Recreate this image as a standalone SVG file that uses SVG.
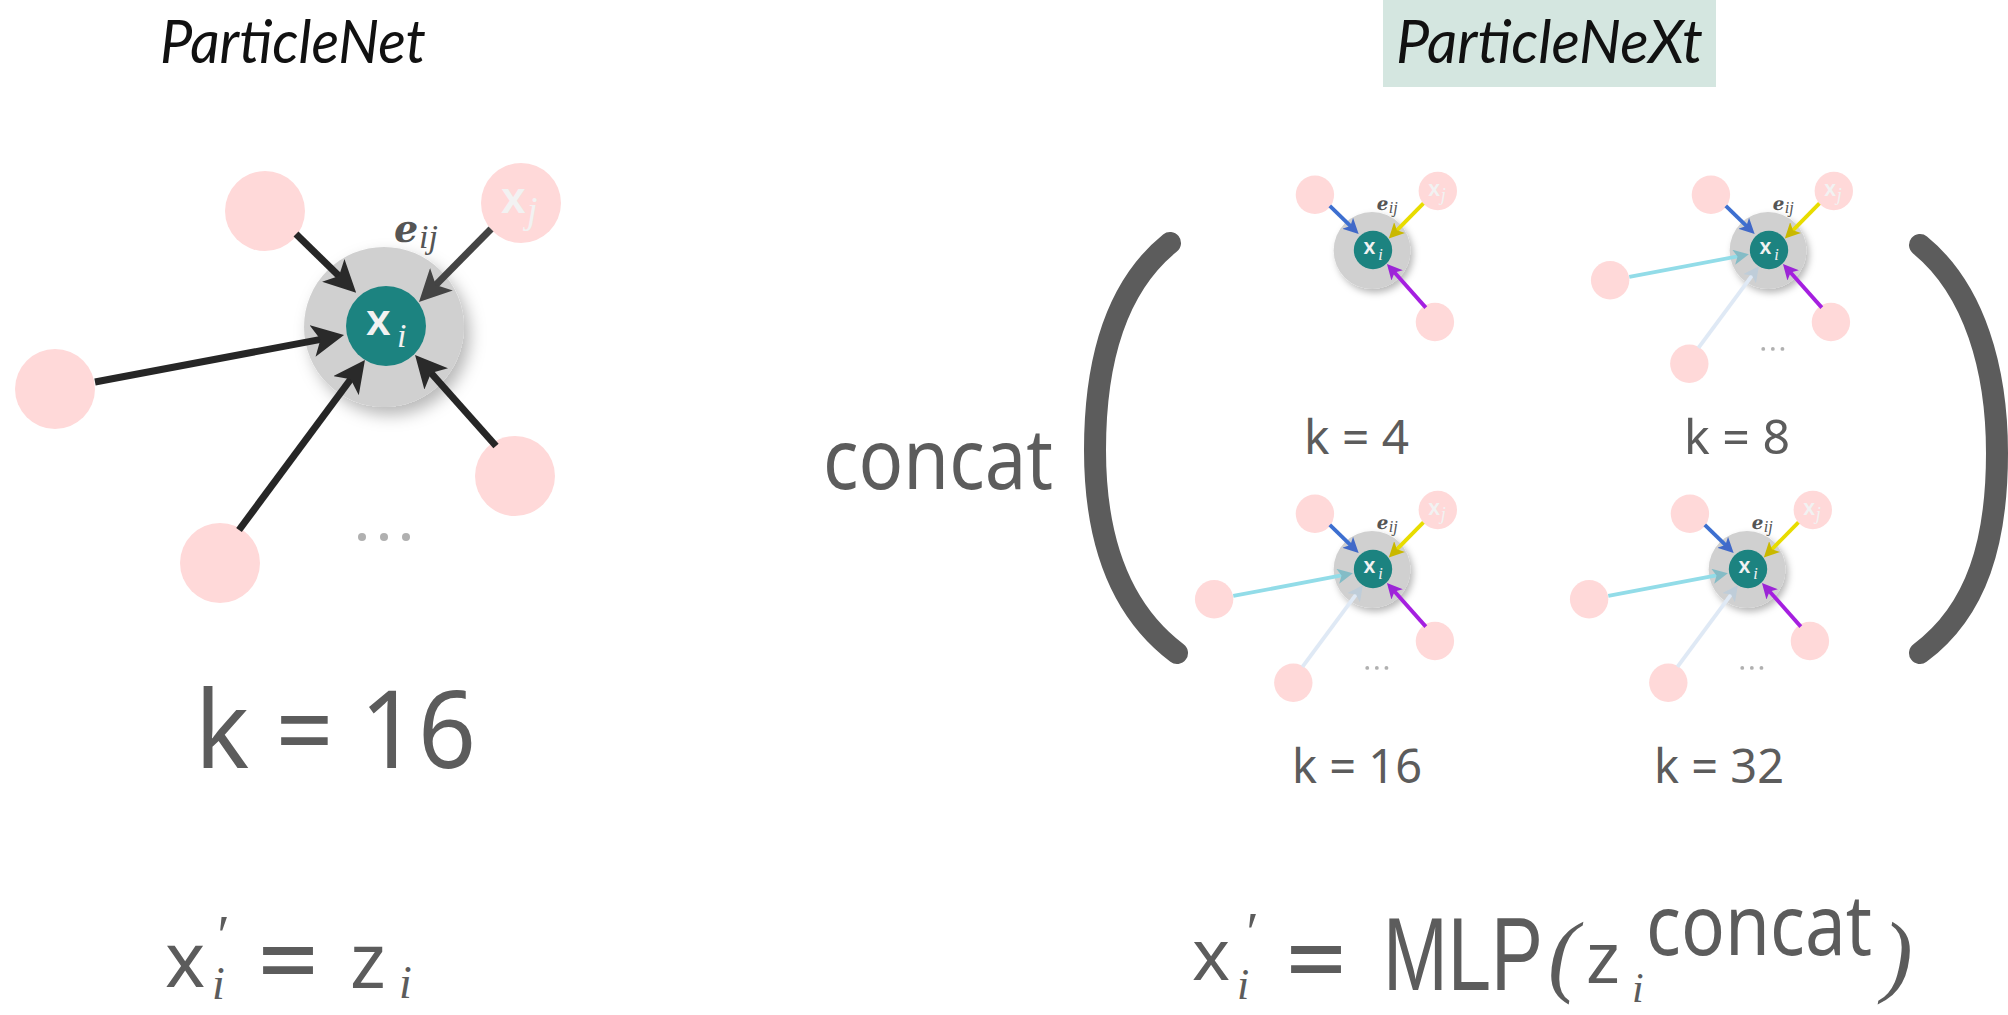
<svg xmlns="http://www.w3.org/2000/svg" width="2008" height="1015" viewBox="0 0 2008 1015">
<style>
.pink{fill:#ffd9d9}
.gray{fill:#d0d0d0}
.teal{fill:#1c8380}
.hand{font-family:"Noto Sans","DejaVu Sans",sans-serif;fill:#5c5c5c}
.eq{font-family:"Liberation Sans",Arial,sans-serif;font-weight:bold;fill:#5c5c5c}
.mlp{font-family:"Liberation Sans",Arial,sans-serif;font-weight:normal;fill:#5c5c5c}
.mathi{font-family:"Liberation Serif","DejaVu Serif",serif;font-style:italic;fill:#5c5c5c}
.title{font-family:Lato,"Liberation Sans",sans-serif;font-style:italic;fill:#111}
.wx{font-family:"Noto Sans","DejaVu Sans",sans-serif;fill:#f2f2f2;font-weight:600}
.wi{font-family:"Liberation Serif","DejaVu Serif",serif;font-style:italic;fill:#f2f2f2}
.elab{font-family:"DejaVu Serif","DejaVu Sans",serif;font-weight:bold;fill:#555}
.eij{font-family:"Liberation Serif","DejaVu Serif",serif;font-style:italic;fill:#555}
.dot{fill:#b0b0b0}
.paren{fill:none;stroke:#5c5c5c;stroke-width:22;stroke-linecap:round}
</style>
<defs>
<filter id="sh" x="-50%" y="-50%" width="200%" height="200%">
<feDropShadow dx="6" dy="8" stdDeviation="8" flood-color="#000" flood-opacity="0.28"/>
</filter>
<marker id="hDark" viewBox="0 0 32 32" markerWidth="32" markerHeight="32" refX="22" refY="16" orient="auto" markerUnits="userSpaceOnUse"><path d="M0,0 L32,16 L0,32 L8,16 z" fill="#2a2a2a"/></marker>
<marker id="hMid" viewBox="0 0 32 32" markerWidth="32" markerHeight="32" refX="22" refY="16" orient="auto" markerUnits="userSpaceOnUse"><path d="M0,0 L32,16 L0,32 L8,16 z" fill="#444"/></marker>
<marker id="hBlue" viewBox="0 0 32 32" markerWidth="32" markerHeight="32" refX="22" refY="16" orient="auto" markerUnits="userSpaceOnUse"><path d="M0,0 L32,16 L0,32 L8,16 z" fill="#4169c8"/></marker>
<marker id="hYel" viewBox="0 0 32 32" markerWidth="32" markerHeight="32" refX="22" refY="16" orient="auto" markerUnits="userSpaceOnUse"><path d="M0,0 L32,16 L0,32 L8,16 z" fill="#c9b800"/></marker>
<marker id="hPur" viewBox="0 0 32 32" markerWidth="32" markerHeight="32" refX="22" refY="16" orient="auto" markerUnits="userSpaceOnUse"><path d="M0,0 L32,16 L0,32 L8,16 z" fill="#9b25d6"/></marker>
<marker id="hCyan" viewBox="0 0 32 32" markerWidth="32" markerHeight="32" refX="22" refY="16" orient="auto" markerUnits="userSpaceOnUse"><path d="M0,0 L32,16 L0,32 L8,16 z" fill="#84bcc6"/></marker>
<marker id="hPale" viewBox="0 0 32 32" markerWidth="32" markerHeight="32" refX="22" refY="16" orient="auto" markerUnits="userSpaceOnUse"><path d="M0,0 L32,16 L0,32 L8,16 z" fill="#bfcdd9"/></marker>
</defs>
<rect width="2008" height="1015" fill="#fff"/>

<!-- Titles -->
<g id="title-left"><text class="title" x="160" y="63" font-size="60" textLength="266" lengthAdjust="spacingAndGlyphs">ParticleNet</text></g>
<g id="title-right">
<rect x="1383" y="0" width="333" height="87" fill="#d4e6e0"/>
<text class="title" x="1396" y="63" font-size="60" textLength="307" lengthAdjust="spacingAndGlyphs">ParticleNeXt</text>
</g>

<!-- Left diagram (ParticleNet) -->
<g id="particlenet" transform="translate(386,326)">
<g id="pn-center"><circle class="gray" cx="-2" cy="1" r="80" filter="url(#sh)"/><circle class="teal" cx="0" cy="0" r="40"/></g>
<g id="pn-n1"><circle class="pink" cx="-121" cy="-115" r="40"/></g>
<g id="pn-n2"><circle class="pink" cx="135" cy="-123" r="40"/><text class="wx" x="115" y="-113" font-size="44">x</text><text class="wi" x="141" y="-103" font-size="38">j</text></g>
<g id="pn-n3"><circle class="pink" cx="-331" cy="63" r="40"/></g>
<g id="pn-n4"><circle class="pink" cx="-166" cy="237" r="40"/></g>
<g id="pn-n5"><circle class="pink" cx="129" cy="150" r="40"/></g>
<g id="pn-connectors" fill="none" stroke-width="7">
<line x1="-90" y1="-92" x2="-37" y2="-40.2" stroke="#262626" marker-end="url(#hDark)"/>
<line x1="105" y1="-97" x2="40" y2="-31.1" stroke="#444" marker-end="url(#hMid)"/>
<line x1="-291" y1="56" x2="-51.8" y2="10.9" stroke="#262626" marker-end="url(#hDark)"/>
<line x1="-147" y1="204" x2="-27" y2="42" stroke="#262626" marker-end="url(#hDark)"/>
<line x1="110" y1="120" x2="35.7" y2="36.5" stroke="#262626" marker-end="url(#hDark)"/>
</g>
<g id="pn-labels">
<text class="wx" x="-20" y="9" font-size="44">x</text><text class="wi" x="11" y="21" font-size="34">i</text>
<text class="elab" x="8" y="-84" font-size="38">ℯ</text><text class="eij" x="33" y="-78" font-size="34">ij</text>
<circle class="dot" cx="-24" cy="211" r="4"/><circle class="dot" cx="-2" cy="211" r="4"/><circle class="dot" cx="20" cy="211" r="4"/>
</g>
</g>
<g id="label-k16-big"><text class="hand" x="195" y="768" font-size="108" textLength="281" lengthAdjust="spacingAndGlyphs">k = 16</text></g>

<!-- concat and parentheses -->
<g id="concat-label"><text class="hand" x="823" y="489" font-size="84" textLength="230" lengthAdjust="spacingAndGlyphs">concat</text></g>
<g id="paren-left"><path class="paren" d="M1170,243 C1112,290 1095,370 1095,450 C1095,540 1120,610 1177,653"/></g>
<g id="paren-right"><path class="paren" d="M1920,245 C1975,290 1997,370 1997,453 C1997,540 1978,610 1920,653"/></g>

<!-- Mini k=4 -->
<g id="mini-k4" transform="translate(1373,250) scale(0.48)">
<circle class="gray" cx="-2" cy="1" r="80" filter="url(#sh)"/><circle class="teal" cx="0" cy="0" r="40"/>
<circle class="pink" cx="-121" cy="-115" r="40"/>
<circle class="pink" cx="135" cy="-123" r="40"/><text class="wx" x="115" y="-113" font-size="44">x</text><text class="wi" x="141" y="-103" font-size="38">j</text>
<circle class="pink" cx="129" cy="150" r="40"/>
<g fill="none" stroke-width="8">
<line x1="-90" y1="-92" x2="-37" y2="-40.2" stroke="#3d6fd0" marker-end="url(#hBlue)"/>
<line x1="105" y1="-97" x2="40" y2="-31.1" stroke="#e8dc00" marker-end="url(#hYel)"/>
<line x1="110" y1="120" x2="35.7" y2="36.5" stroke="#a51fe0" marker-end="url(#hPur)"/>
</g>
<text class="wx" x="-20" y="9" font-size="44">x</text><text class="wi" x="11" y="21" font-size="34">i</text>
<text class="elab" x="8" y="-84" font-size="38">ℯ</text><text class="eij" x="33" y="-78" font-size="34">ij</text>
</g>
<g id="label-k4"><text class="hand" x="1304" y="454" font-size="48" textLength="105" lengthAdjust="spacingAndGlyphs">k = 4</text></g>

<!-- Mini k=8 -->
<g id="mini-k8" transform="translate(1769,250) scale(0.48)">
<circle class="gray" cx="-2" cy="1" r="80" filter="url(#sh)"/><circle class="teal" cx="0" cy="0" r="40"/>
<circle class="pink" cx="-121" cy="-115" r="40"/>
<circle class="pink" cx="135" cy="-123" r="40"/><text class="wx" x="115" y="-113" font-size="44">x</text><text class="wi" x="141" y="-103" font-size="38">j</text>
<circle class="pink" cx="-331" cy="63" r="40"/>
<circle class="pink" cx="-166" cy="237" r="40"/>
<circle class="pink" cx="129" cy="150" r="40"/>
<g fill="none" stroke-width="8">
<line x1="-90" y1="-92" x2="-37" y2="-40.2" stroke="#3d6fd0" marker-end="url(#hBlue)"/>
<line x1="105" y1="-97" x2="40" y2="-31.1" stroke="#e8dc00" marker-end="url(#hYel)"/>
<line x1="-291" y1="56" x2="-51.8" y2="10.9" stroke="#92dce8" marker-end="url(#hCyan)"/>
<line x1="-147" y1="204" x2="-27" y2="42" stroke="#dfe9f5" marker-end="url(#hPale)"/>
<line x1="110" y1="120" x2="35.7" y2="36.5" stroke="#a51fe0" marker-end="url(#hPur)"/>
</g>
<text class="wx" x="-20" y="9" font-size="44">x</text><text class="wi" x="11" y="21" font-size="34">i</text>
<text class="elab" x="8" y="-84" font-size="38">ℯ</text><text class="eij" x="33" y="-78" font-size="34">ij</text>
<circle class="dot" cx="-12" cy="206" r="4"/><circle class="dot" cx="8" cy="206" r="4"/><circle class="dot" cx="28" cy="206" r="4"/>
</g>
<g id="label-k8"><text class="hand" x="1684" y="454" font-size="48" textLength="106" lengthAdjust="spacingAndGlyphs">k = 8</text></g>

<!-- Mini k=16 -->
<g id="mini-k16" transform="translate(1373,569) scale(0.48)">
<circle class="gray" cx="-2" cy="1" r="80" filter="url(#sh)"/><circle class="teal" cx="0" cy="0" r="40"/>
<circle class="pink" cx="-121" cy="-115" r="40"/>
<circle class="pink" cx="135" cy="-123" r="40"/><text class="wx" x="115" y="-113" font-size="44">x</text><text class="wi" x="141" y="-103" font-size="38">j</text>
<circle class="pink" cx="-331" cy="63" r="40"/>
<circle class="pink" cx="-166" cy="237" r="40"/>
<circle class="pink" cx="129" cy="150" r="40"/>
<g fill="none" stroke-width="8">
<line x1="-90" y1="-92" x2="-37" y2="-40.2" stroke="#3d6fd0" marker-end="url(#hBlue)"/>
<line x1="105" y1="-97" x2="40" y2="-31.1" stroke="#e8dc00" marker-end="url(#hYel)"/>
<line x1="-291" y1="56" x2="-51.8" y2="10.9" stroke="#92dce8" marker-end="url(#hCyan)"/>
<line x1="-147" y1="204" x2="-27" y2="42" stroke="#dfe9f5" marker-end="url(#hPale)"/>
<line x1="110" y1="120" x2="35.7" y2="36.5" stroke="#a51fe0" marker-end="url(#hPur)"/>
</g>
<text class="wx" x="-20" y="9" font-size="44">x</text><text class="wi" x="11" y="21" font-size="34">i</text>
<text class="elab" x="8" y="-84" font-size="38">ℯ</text><text class="eij" x="33" y="-78" font-size="34">ij</text>
<circle class="dot" cx="-12" cy="206" r="4"/><circle class="dot" cx="8" cy="206" r="4"/><circle class="dot" cx="28" cy="206" r="4"/>
</g>
<g id="label-k16"><text class="hand" x="1292" y="783" font-size="48" textLength="130" lengthAdjust="spacingAndGlyphs">k = 16</text></g>

<!-- Mini k=32 -->
<g id="mini-k32" transform="translate(1748,569) scale(0.48)">
<circle class="gray" cx="-2" cy="1" r="80" filter="url(#sh)"/><circle class="teal" cx="0" cy="0" r="40"/>
<circle class="pink" cx="-121" cy="-115" r="40"/>
<circle class="pink" cx="135" cy="-123" r="40"/><text class="wx" x="115" y="-113" font-size="44">x</text><text class="wi" x="141" y="-103" font-size="38">j</text>
<circle class="pink" cx="-331" cy="63" r="40"/>
<circle class="pink" cx="-166" cy="237" r="40"/>
<circle class="pink" cx="129" cy="150" r="40"/>
<g fill="none" stroke-width="8">
<line x1="-90" y1="-92" x2="-37" y2="-40.2" stroke="#3d6fd0" marker-end="url(#hBlue)"/>
<line x1="105" y1="-97" x2="40" y2="-31.1" stroke="#e8dc00" marker-end="url(#hYel)"/>
<line x1="-291" y1="56" x2="-51.8" y2="10.9" stroke="#92dce8" marker-end="url(#hCyan)"/>
<line x1="-147" y1="204" x2="-27" y2="42" stroke="#dfe9f5" marker-end="url(#hPale)"/>
<line x1="110" y1="120" x2="35.7" y2="36.5" stroke="#a51fe0" marker-end="url(#hPur)"/>
</g>
<text class="wx" x="-20" y="9" font-size="44">x</text><text class="wi" x="11" y="21" font-size="34">i</text>
<text class="elab" x="8" y="-84" font-size="38">ℯ</text><text class="eij" x="33" y="-78" font-size="34">ij</text>
<circle class="dot" cx="-12" cy="206" r="4"/><circle class="dot" cx="8" cy="206" r="4"/><circle class="dot" cx="28" cy="206" r="4"/>
</g>
<g id="label-k32"><text class="hand" x="1654" y="783" font-size="48" textLength="130" lengthAdjust="spacingAndGlyphs">k = 32</text></g>

<!-- Formulas -->
<g id="formula-left">
<text class="hand" x="165" y="987" font-size="76">x</text>
<text class="mathi" x="214" y="955" font-size="56">′</text>
<text class="mathi" x="212" y="999" font-size="46">i</text>
<text class="eq" x="259" y="984" font-size="72" textLength="58" lengthAdjust="spacingAndGlyphs">=</text>
<text class="hand" x="350" y="988" font-size="76">z</text>
<text class="mathi" x="399" y="998" font-size="46">i</text>
</g>
<g id="formula-right">
<text class="hand" x="1192" y="980" font-size="72">x</text>
<text class="mathi" x="1243" y="952" font-size="56">′</text>
<text class="mathi" x="1237" y="999" font-size="44">i</text>
<text class="eq" x="1287" y="983" font-size="72" textLength="58" lengthAdjust="spacingAndGlyphs">=</text>
<text class="mlp" x="1383" y="990" font-size="104" textLength="160" lengthAdjust="spacingAndGlyphs">MLP</text>
<text class="mathi" x="1548" y="985" font-size="92">(</text>
<text class="hand" x="1586" y="983" font-size="72">z</text>
<text class="mathi" x="1632" y="1002" font-size="42">i</text>
<text class="hand" x="1646" y="955" font-size="84" textLength="226" lengthAdjust="spacingAndGlyphs">concat</text>
<text class="mathi" x="1882" y="985" font-size="92">)</text>
</g>
</svg>
